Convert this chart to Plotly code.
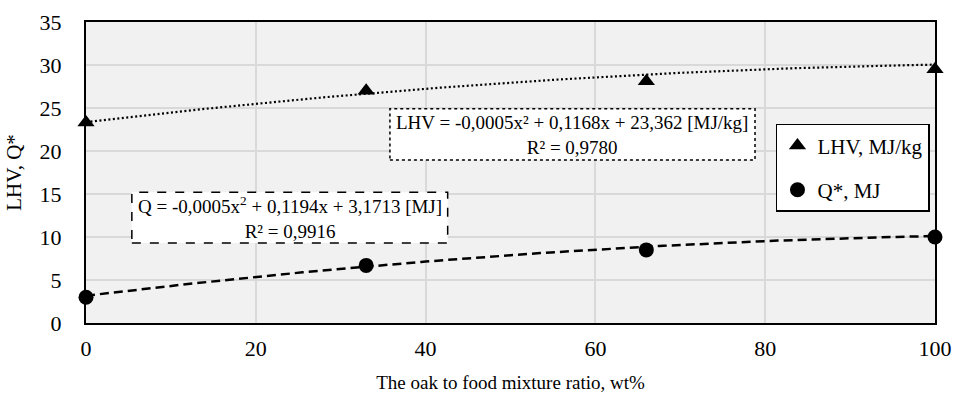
import numpy as np
import plotly.graph_objects as go

# ---- data ----
ratio = [0, 33, 66, 100]
lhv = [23.3, 27.0, 28.1, 29.5]
q_star = [3.0, 6.7, 8.5, 10.0]
lhv_coef = [-0.0005, 0.1168, 23.362]   # trendline from chart label
q_coef = [-0.0005, 0.1194, 3.1713]     # trendline from chart label
x_ticks = [0, 20, 40, 60, 80, 100]
y_ticks = [0, 5, 10, 15, 20, 25, 30, 35]
lhv_label = "LHV = -0,0005x² + 0,1168x + 23,362 [MJ/kg]<br>R² = 0,9780"
q_label = "Q = -0,0005x<sup>2</sup> + 0,1194x + 3,1713 [MJ]<br>R² = 0,9916"

FONT = "Liberation Serif"

xs = np.linspace(min(ratio), max(ratio), 201)

fig = go.Figure()
fig.add_trace(go.Scatter(x=xs, y=np.polyval(lhv_coef, xs), mode="lines",
                         line=dict(color="black", width=2.2, dash="2px,2.5px"),
                         showlegend=False, hoverinfo="skip"))
fig.add_trace(go.Scatter(x=xs, y=np.polyval(q_coef, xs), mode="lines",
                         line=dict(color="black", width=2.5, dash="9px,5px"),
                         showlegend=False, hoverinfo="skip"))
fig.add_trace(go.Scatter(x=ratio, y=lhv, mode="markers", name="LHV, MJ/kg",
                         marker=dict(symbol="triangle-up", size=15, color="black"),
                         cliponaxis=False, legendgroup="a"))
fig.add_trace(go.Scatter(x=ratio, y=q_star, mode="markers", name="Q*, MJ",
                         marker=dict(symbol="circle", size=15, color="black"),
                         cliponaxis=False, legendgroup="b"))

# equation boxes
fig.add_shape(type="rect", xref="x", yref="y", x0=35.8, x1=78.8, y0=18.95, y1=24.9,
              fillcolor="white", line=dict(color="black", width=1.5, dash="dot"), layer="above")
fig.add_shape(type="rect", xref="x", yref="y", x0=5.4, x1=42.6, y0=9.3, y1=15.2,
              fillcolor="white", line=dict(color="black", width=1.5, dash="dash"), layer="above")
fig.add_annotation(x=57.3, y=21.9, xref="x", yref="y", text=lhv_label, showarrow=False,
                   font=dict(family=FONT, size=19, color="black"), align="center")
fig.add_annotation(x=24.0, y=12.25, xref="x", yref="y", text=q_label, showarrow=False,
                   font=dict(family=FONT, size=19, color="black"), align="center")

fig.update_layout(
    width=955, height=398,
    margin=dict(l=86, r=20, t=22, b=75, autoexpand=False),
    paper_bgcolor="white", plot_bgcolor="#f1f1f1",
    font=dict(family=FONT, color="black"),
    legend=dict(x=0.8127, y=0.662, xanchor="left", yanchor="top",
                bgcolor="white", bordercolor="black", borderwidth=1.5,
                font=dict(family=FONT, size=21, color="black"),
                itemwidth=30, tracegroupgap=14, traceorder="grouped"),
    xaxis=dict(range=[0, 100], tickvals=x_ticks, showgrid=True, gridcolor="#d9d9d9", gridwidth=1.5,
               showline=True, linecolor="black", linewidth=2, mirror=True, zeroline=False,
               automargin=False,
               ticks="", ticklabelstandoff=5, tickfont=dict(family=FONT, size=22),
               title=dict(text="The oak to food mixture ratio, wt%", font=dict(family=FONT, size=19),
                          standoff=15)),
    yaxis=dict(range=[0, 35], tickvals=y_ticks, showgrid=True, gridcolor="#d9d9d9", gridwidth=1.5,
               showline=True, linecolor="black", linewidth=2, mirror=True, zeroline=False,
               automargin=False,
               ticks="", ticklabelstandoff=18, tickfont=dict(family=FONT, size=22),
               title=dict(text="LHV, Q*", font=dict(family=FONT, size=21), standoff=12)),
)

fig.write_html("out.html")
